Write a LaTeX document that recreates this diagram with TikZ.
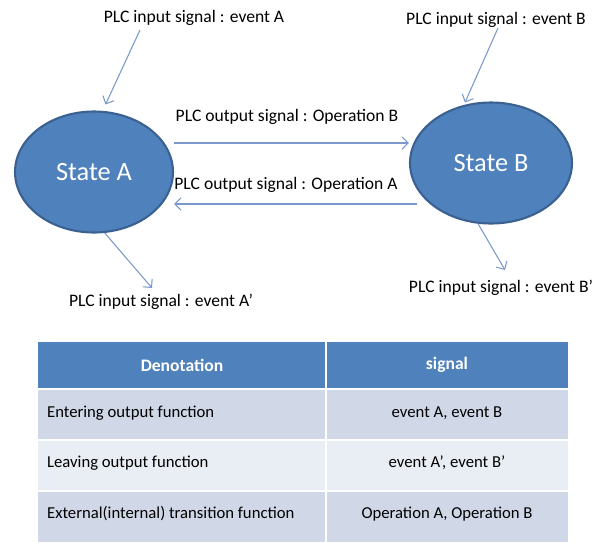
\documentclass[tikz,border=0pt]{standalone}
\usepackage{fontspec}
\setmainfont{Carlito}
\usetikzlibrary{arrows.meta,shapes.geometric}

\definecolor{stateblue}{HTML}{4F81BD}
\definecolor{stateline}{HTML}{3A6190}
\definecolor{arrowblue}{HTML}{7A98C9}
\definecolor{rowdark}{HTML}{D0D8E8}
\definecolor{rowlight}{HTML}{E9EDF4}

\tikzset{
  state/.style={ellipse,draw=stateline,line width=1.2pt,fill=stateblue,
    text=white,font=\fontsize{15}{18}\selectfont,inner sep=0pt,
    minimum width=3.16cm,minimum height=2.42cm},
  siglabel/.style={font=\fontsize{10}{12}\selectfont,inner sep=1pt},
  link/.style={draw=arrowblue,line width=0.6pt,-{Straight Barb[length=3.5pt,width=7pt]}},
  cell/.style={font=\fontsize{9.5}{12}\selectfont,inner sep=1pt},
  headcell/.style={font=\bfseries\fontsize{10}{12}\selectfont,text=white,inner sep=1pt}
}

\begin{document}
\begin{tikzpicture}[x=0.02cm,y=-0.02cm]
\useasboundingbox (0,0) rectangle (602,542);

% states
\node[state] (stA) at (94,172) {State A};
\node[state,minimum width=3.24cm] (stB) at (491,163) {State B};

% signal labels
\node[siglabel] (evA) at (194,18) {PLC input signal : event A};
\node[siglabel] (evB) at (496,20) {PLC input signal : event B};
\node[siglabel] (evAp) at (161,302) {PLC input signal : event A’};
\node[siglabel] (evBp) at (501,288) {PLC input signal : event B’};
\node[siglabel] (opB) at (287,117) {PLC output signal : Operation B};
\node[siglabel] (opA) at (286,185) {PLC output signal : Operation A};

% connector ends
\coordinate (evA-tail) at (140,30);
\coordinate (evB-tail) at (498,28);
\coordinate (evAp-head) at (152,288);
\coordinate (evBp-head) at (505,270);
\coordinate (fwd) at (0,143);
\coordinate (bwd) at (417,204);

\draw[link,shorten >=4pt] (evA-tail) -- (stA.82);
\draw[link,shorten >=1.5pt] (evB-tail) -- (stB.115);
\draw[link] (stA.-80) -- (evAp-head);
\draw[link] (stB.-102) -- (evBp-head);
\draw[link] (stA.east |- fwd) -- (stB.west |- fwd);
\draw[link] (bwd) -- (stA.east |- bwd);

% table
\fill[stateblue] (38,342) rectangle (568,389);
\fill[rowdark] (38,389) rectangle (568,440);
\fill[rowlight] (38,440) rectangle (568,491);
\fill[rowdark] (38,491) rectangle (568,542);
\draw[white,line width=1.5pt] (38,389) -- (568,389) (38,440) -- (568,440)
  (38,491) -- (568,491) (326,342) -- (326,542);

\node[headcell] (hdDen) at (182,365) {Denotation};
\node[headcell] (hdSig) at (447,365) {signal};

\node[cell,anchor=west] (rwEnt) at (45,413) {Entering output function};
\node[cell,anchor=west] (rwLv) at (45,463) {Leaving output function};
\node[cell,anchor=west] (rwExt) at (45,514) {External(internal) transition function};

\node[cell] (sgEnt) at (447,413) {event A, event B};
\node[cell] (sgLv) at (447,463) {event A’, event B’};
\node[cell] (sgExt) at (447,514) {Operation A, Operation B};
\end{tikzpicture}
\end{document}
